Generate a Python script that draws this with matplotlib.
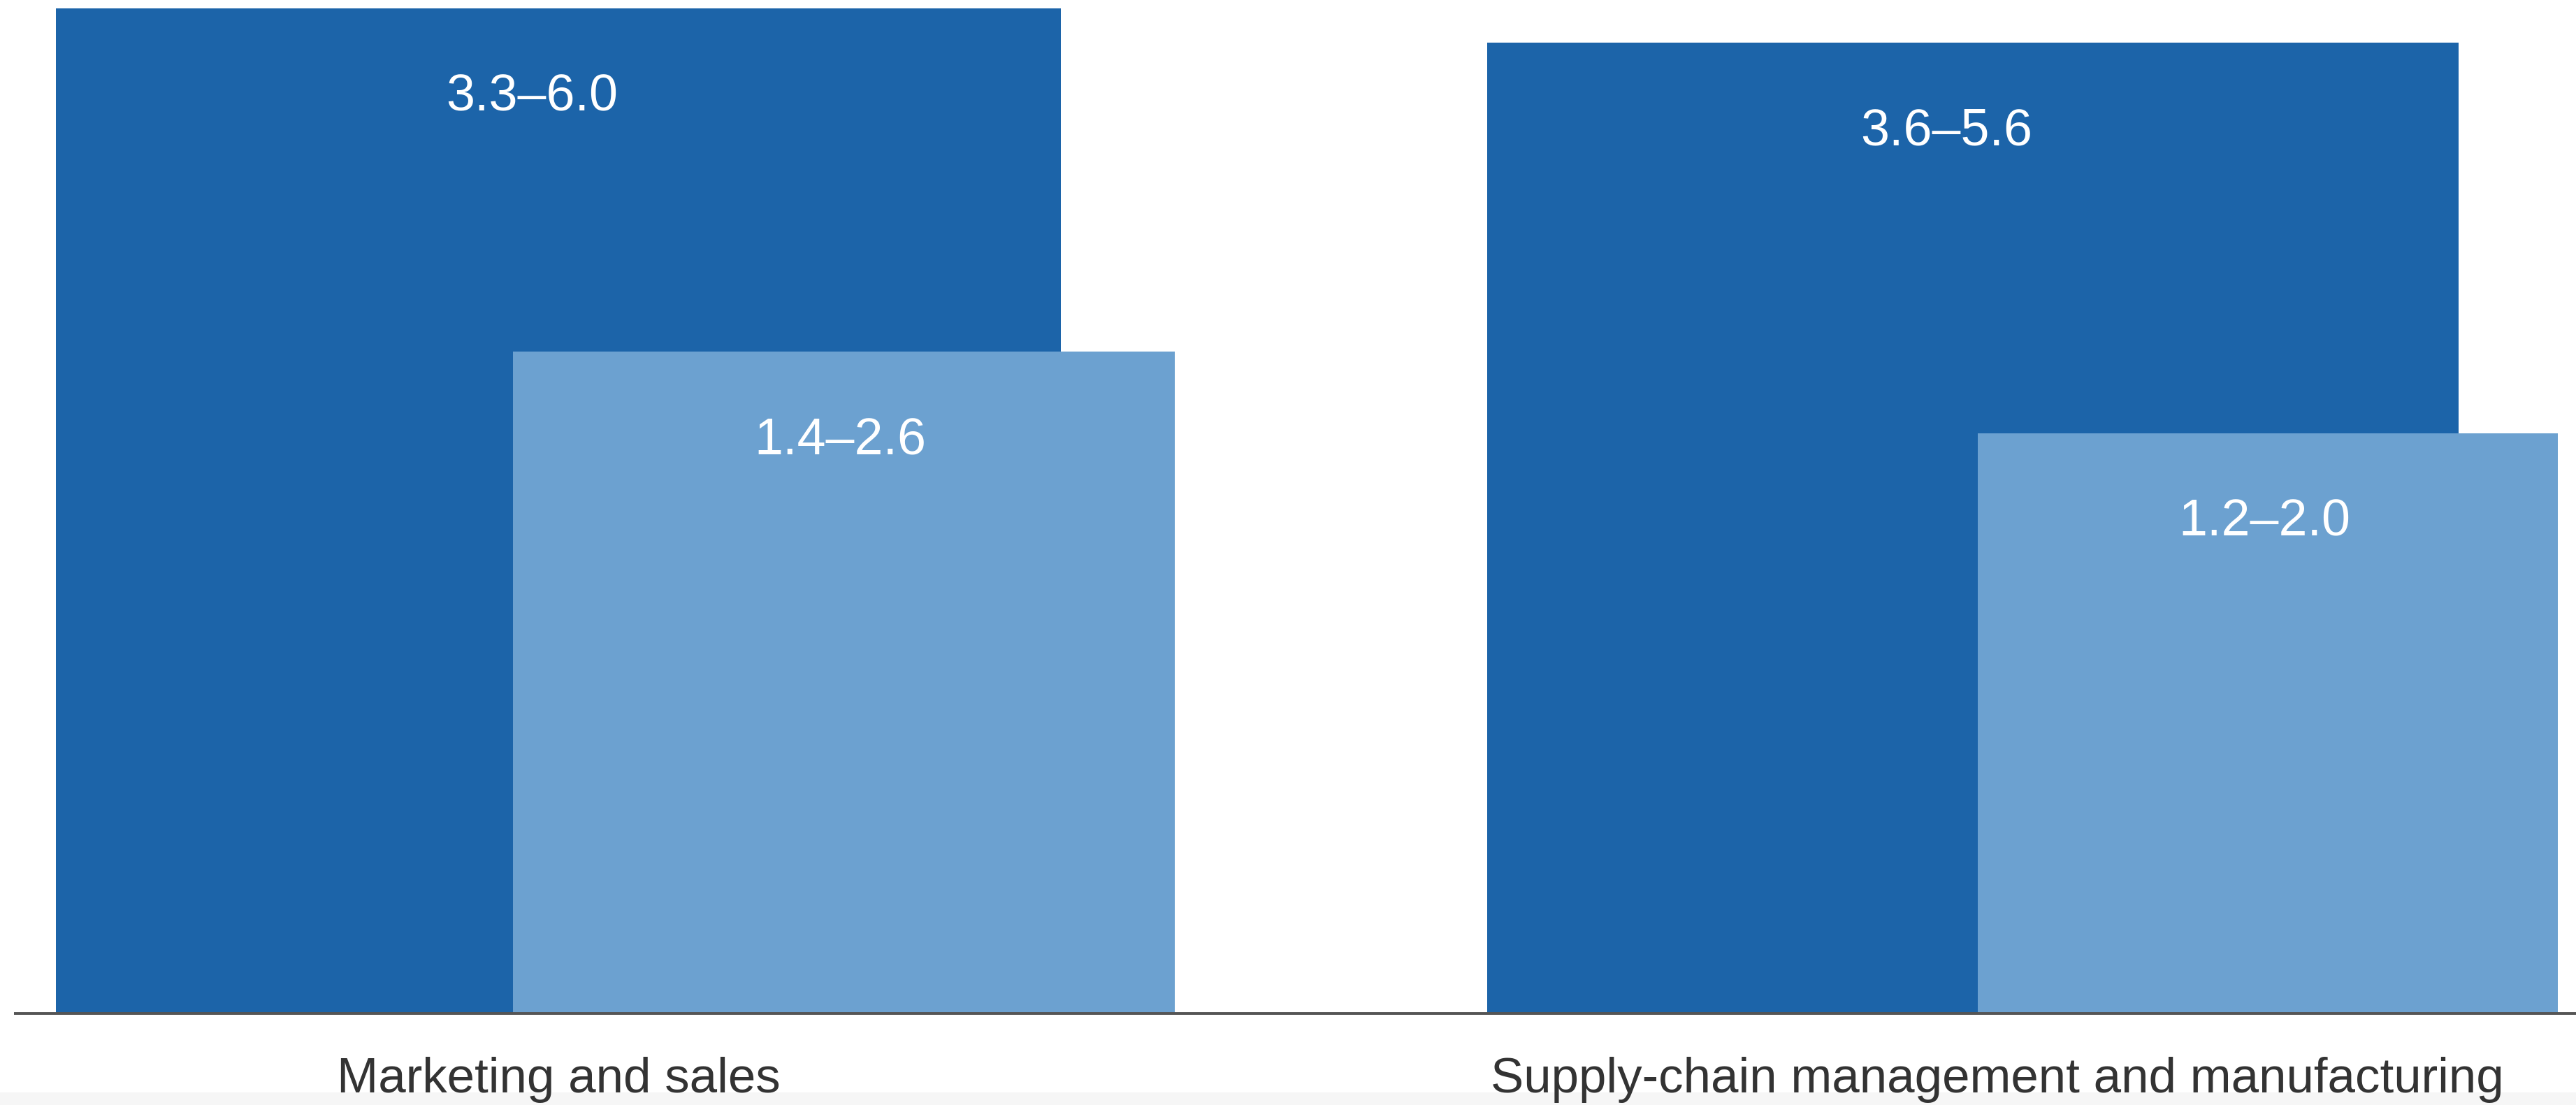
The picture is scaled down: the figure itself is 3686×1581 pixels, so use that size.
import numpy as np
import matplotlib
matplotlib.use('Agg')
import matplotlib.pyplot as plt
from matplotlib.patches import Rectangle

plt.rcParams['font.family'] = ['Liberation Sans', 'DejaVu Sans']

######## data
categories = ['Marketing and sales', 'Supply-chain management and manufacturing']
low_dark = [3.3, 3.6]
high_dark = [6.0, 5.6]
low_light = [1.4, 1.2]
high_light = [2.6, 2.0]

dark_col = '#1c64a9'
light_col = '#6ca1d0'
text_col = '#333333'

######## layout (square side = sqrt of upper value, so area tracks value)
W, H, DPI = 3687, 1581, 100
px = 587.1                      # pixels per unit of side
base_px = 131                   # baseline height above bottom edge
group_x = [0.136, 3.625]        # left edge of each dark square
overhang = 0.172                # light square sticks out past dark by this share of its side

fig = plt.figure(figsize=(W / DPI, H / DPI), dpi=DPI)
fig.patch.set_facecolor('white')
# faint grey strip along the bottom edge, behind everything
fig.patches.append(Rectangle((0, 0), 1, 18 / H, transform=fig.transFigure,
                             facecolor='#f6f6f6', edgecolor='none', zorder=-5))
ax = fig.add_axes([0, 0, 1, 1])
ax.set_xlim(0, W / px)
ax.set_ylim(-base_px / px, (H - base_px) / px)
ax.axis('off')
ax.patch.set_alpha(0)

side_dark = np.sqrt(high_dark)
side_light = np.sqrt(high_light)
x_dark = np.array(group_x)
x_light = x_dark + side_dark + overhang * side_light - side_light

ax.bar(x_dark, side_dark, width=side_dark, align='edge', color=dark_col, zorder=2)
ax.bar(x_light, side_light, width=side_light, align='edge', color=light_col, zorder=3)

# baseline
ax.plot([20 / px, W / px], [0, 0], color='#555555', lw=2.8, zorder=4,
        solid_capstyle='butt')

####### value labels
for i in range(2):
    ax.text(x_dark[i] + side_dark[i] / 2 - 0.065, side_dark[i] - 0.25,
            '%.1f–%.1f' % (low_dark[i], high_dark[i]),
            color='white', fontsize=53, ha='center', va='baseline', zorder=5)
    ax.text(x_light[i] + side_light[i] / 2 - 0.008, side_light[i] - 0.25,
            '%.1f–%.1f' % (low_light[i], high_light[i]),
            color='white', fontsize=53, ha='center', va='baseline', zorder=5)

####### category labels
lab_y = (18 - base_px) / px
ax.text(x_dark[0] + side_dark[0] / 2, lab_y, categories[0], color=text_col,
        fontsize=51, ha='center', va='baseline', zorder=6)
ax.text(x_dark[1] + 0.008, lab_y, categories[1], color=text_col,
        fontsize=51, ha='left', va='baseline', zorder=6)

fig.savefig('out.png', dpi=DPI, facecolor='white')
